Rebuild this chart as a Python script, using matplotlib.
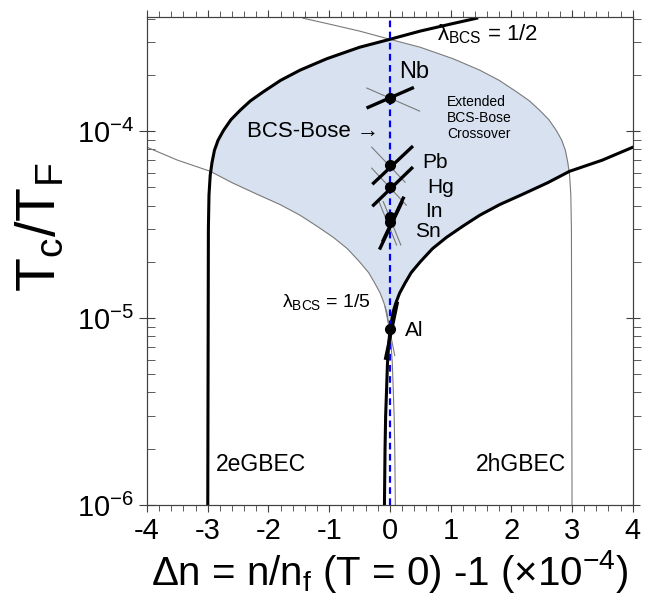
import numpy as np
import matplotlib
matplotlib.use("Agg")
import matplotlib.pyplot as plt
from matplotlib.ticker import MultipleLocator, LogLocator, NullFormatter, FixedLocator, FixedFormatter

plt.rcParams['font.family'] = ['Liberation Sans', 'DejaVu Sans']
plt.rcParams['mathtext.fontset'] = 'custom'
plt.rcParams['mathtext.rm'] = 'Liberation Sans'
plt.rcParams['mathtext.it'] = 'Liberation Sans:italic'
plt.rcParams['mathtext.sf'] = 'Liberation Sans'

# lambda_BCS = 1/2, 2e branch (thick); the 2h branch is its mirror image
half_x = [1.43, 1.00, 0.50, 0.00, -0.50, -1.04, -1.48, -1.80, -2.09, -2.30, -2.47, -2.62,
          -2.74, -2.83, -2.89, -2.93, -2.96, -2.98, -2.99, -3.00]
half_T = [4.02e-4, 3.74e-4, 3.43e-4, 3.10e-4, 2.81e-4, 2.44e-4, 2.12e-4, 1.87e-4, 1.62e-4,
          1.45e-4, 1.29e-4, 1.15e-4, 1.01e-4, 8.95e-5, 7.9e-5, 6.8e-5, 5.8e-5, 4.55e-5,
          3.0e-5, 1.0e-6]

# lambda_BCS = 1/5, 2e branch (thick); 2h branch mirrored
fifth_x = [4.00, 3.50, 2.96, 2.60, 2.19, 1.81, 1.48, 1.20, 0.93, 0.70, 0.50, 0.35, 0.25,
           0.16, 0.10, 0.05, 0.02, 0.00, -0.02, -0.04, -0.05, -0.07, -0.08, -0.09]
fifth_T = [8.2e-5, 7.0e-5, 6.1e-5, 5.3e-5, 4.6e-5, 4.05e-5, 3.55e-5, 3.1e-5, 2.7e-5,
           2.35e-5, 2.0e-5, 1.75e-5, 1.54e-5, 1.36e-5, 1.21e-5, 1.07e-5, 9.3e-6, 8.6e-6,
           7.2e-6, 5.7e-6, 4.6e-6, 3.0e-6, 2.0e-6, 1.0e-6]

# elements on the Delta n = 0 line
elements = ['Nb', 'Pb', 'Hg', 'In', 'Sn', 'Al']
elem_T = [1.50e-4, 6.58e-5, 5.03e-5, 3.47e-5, 3.26e-5, 8.73e-6]
# local thick (2e) segment: x0, T0, x1, T1
thick_seg = [(-0.36, 1.34e-4, 0.37, 1.70e-4),
             (-0.27, 5.27e-5, 0.36, 8.21e-5),
             (-0.27, 4.02e-5, 0.36, 6.34e-5),
             (-0.11, 2.61e-5, 0.22, 4.38e-5),
             (-0.16, 2.37e-5, 0.19, 4.12e-5),
             (-0.07, 6.1e-6, 0.12, 1.2e-5)]
# local thin (2h) segment
thin_seg = [(-0.38, 1.70e-4, 0.49, 1.28e-4),
            (-0.30, 8.21e-5, 0.25, 5.33e-5),
            (-0.30, 6.34e-5, 0.27, 4.02e-5),
            (-0.11, 4.2e-5, 0.18, 2.46e-5),
            (-0.18, 4.2e-5, 0.11, 2.46e-5),
            (-0.08, 1.15e-5, 0.08, 6.3e-6)]

half_x = np.array(half_x); half_T = np.array(half_T)
fifth_x = np.array(fifth_x); fifth_T = np.array(fifth_T)

fig = plt.figure(figsize=(6.45, 6.07), dpi=100)
ax = fig.add_axes([0.228, 0.168, 0.753, 0.804])

# shaded crossover region
lt = np.linspace(np.log10(8.6e-6), np.log10(3.1e-4), 500)
lh = np.log10(half_T)[::-1]; xh = half_x[::-1]
lf = np.log10(fifth_T)[::-1]; xf = fifth_x[::-1]
left = np.maximum(np.interp(lt, lh, xh), -np.interp(lt, lf, xf))
right = np.minimum(-np.interp(lt, lh, xh), np.interp(lt, lf, xf))
ax.fill_betweenx(10**lt, left, right, where=left <= right, color='#d7e1f0', lw=0)

thin_c = '#7a7a7a'
ax.plot(-half_x, half_T, color=thin_c, lw=0.8)
ax.plot(-fifth_x, fifth_T, color=thin_c, lw=0.8)
ax.plot(half_x, half_T, color='black', lw=2.2)
ax.plot(fifth_x, fifth_T, color='black', lw=2.2)

ax.axvline(0, color='#0000ff', lw=1.6, ls=(0, (3, 2)), zorder=3)

for i in range(len(elements)):
    x0, t0, x1, t1 = thin_seg[i]
    ax.plot([x0, x1], [t0, t1], color=thin_c, lw=0.8, zorder=4)
    x0, t0, x1, t1 = thick_seg[i]
    ax.plot([x0, x1], [t0, t1], color='black', lw=2.4, zorder=5)
ax.plot(np.zeros(len(elem_T)), elem_T, 'o', color='black', ms=7, zorder=6)

ax.set_xlim(-4, 4)
ax.set_yscale('log')
ax.set_ylim(1e-6, 4.08e-4)

# labels
ax.text(0.77, 3.3e-4, '\u03bb$_{\\mathrm{BCS}}$ = 1/2', fontsize=16, va='center')
ax.text(0.16, 2.07e-4, 'Nb', fontsize=17, va='center')
ax.text(0.94, 1.18e-4, 'Extended\nBCS-Bose\nCrossover', fontsize=10, va='center', linespacing=1.2)
ax.text(-2.35, 1.0e-4, 'BCS-Bose \u2192', fontsize=16, va='center')
ax.text(0.54, 6.8e-5, 'Pb', fontsize=15, va='center')
ax.text(0.61, 5.0e-5, 'Hg', fontsize=15, va='center')
ax.text(0.58, 3.7e-5, 'In', fontsize=15, va='center')
ax.text(0.42, 2.9e-5, 'Sn', fontsize=15, va='center')
ax.text(-1.78, 1.22e-5, '\u03bb$_{\\mathrm{BCS}}$ = 1/5', fontsize=14, va='center')
ax.text(0.25, 8.6e-6, 'Al', fontsize=15, va='center')
ax.text(-2.86, 1.64e-6, '2eGBEC', fontsize=16.5, va='center')
ax.text(1.42, 1.64e-6, '2hGBEC', fontsize=16.5, va='center')

ax.set_xlabel(r'$\Delta$n = n/n$_{\mathrm{f}}$ (T = 0) -1 ($\times$10$^{-4}$)', fontsize=29, labelpad=2)
ax.set_ylabel(r'T$_{\mathrm{c}}$/T$_{\mathrm{F}}$', fontsize=40)
ax.yaxis.set_label_coords(-0.165, 0.57)

ax.xaxis.set_major_locator(FixedLocator(range(-4, 5)))
ax.xaxis.set_minor_locator(MultipleLocator(0.2))
ax.xaxis.set_major_formatter(FixedFormatter(['-4', '-3', '-2', '-1', '0', '1', '2', '3', '4']))
ax.yaxis.set_major_locator(FixedLocator([1e-6, 1e-5, 1e-4]))
ax.yaxis.set_major_formatter(FixedFormatter([r'10$^{-6}$', r'10$^{-5}$', r'10$^{-4}$']))
ax.yaxis.set_minor_locator(LogLocator(base=10, subs=np.arange(2, 10)))
ax.yaxis.set_minor_formatter(NullFormatter())

spine_c = '#404040'
for s in ax.spines.values():
    s.set_color(spine_c)
ax.tick_params(axis='x', which='both', direction='out', top=True, colors=spine_c, labelcolor='black', labelsize=21)
ax.tick_params(axis='x', which='major', length=5)
ax.tick_params(axis='x', which='minor', length=4)
ax.tick_params(axis='y', which='major', direction='inout', length=12, colors=spine_c, labelcolor='black', labelsize=21, right=False)
ax.tick_params(axis='y', which='minor', direction='in', length=6, colors=spine_c, right=False)

# right side ticks point outward
ax2 = ax.twinx()
ax2.set_yscale('log')
ax2.set_ylim(ax.get_ylim())
ax2.yaxis.set_major_locator(FixedLocator([1e-6, 1e-5, 1e-4]))
ax2.yaxis.set_minor_locator(LogLocator(base=10, subs=np.arange(2, 10)))
ax2.yaxis.set_major_formatter(NullFormatter())
ax2.yaxis.set_minor_formatter(NullFormatter())
ax2.tick_params(axis='y', which='major', direction='inout', length=10, colors=spine_c)
ax2.tick_params(axis='y', which='minor', direction='out', length=6, colors=spine_c)
for s in ax2.spines.values():
    s.set_color(spine_c)

fig.savefig('out.png', dpi=100)
